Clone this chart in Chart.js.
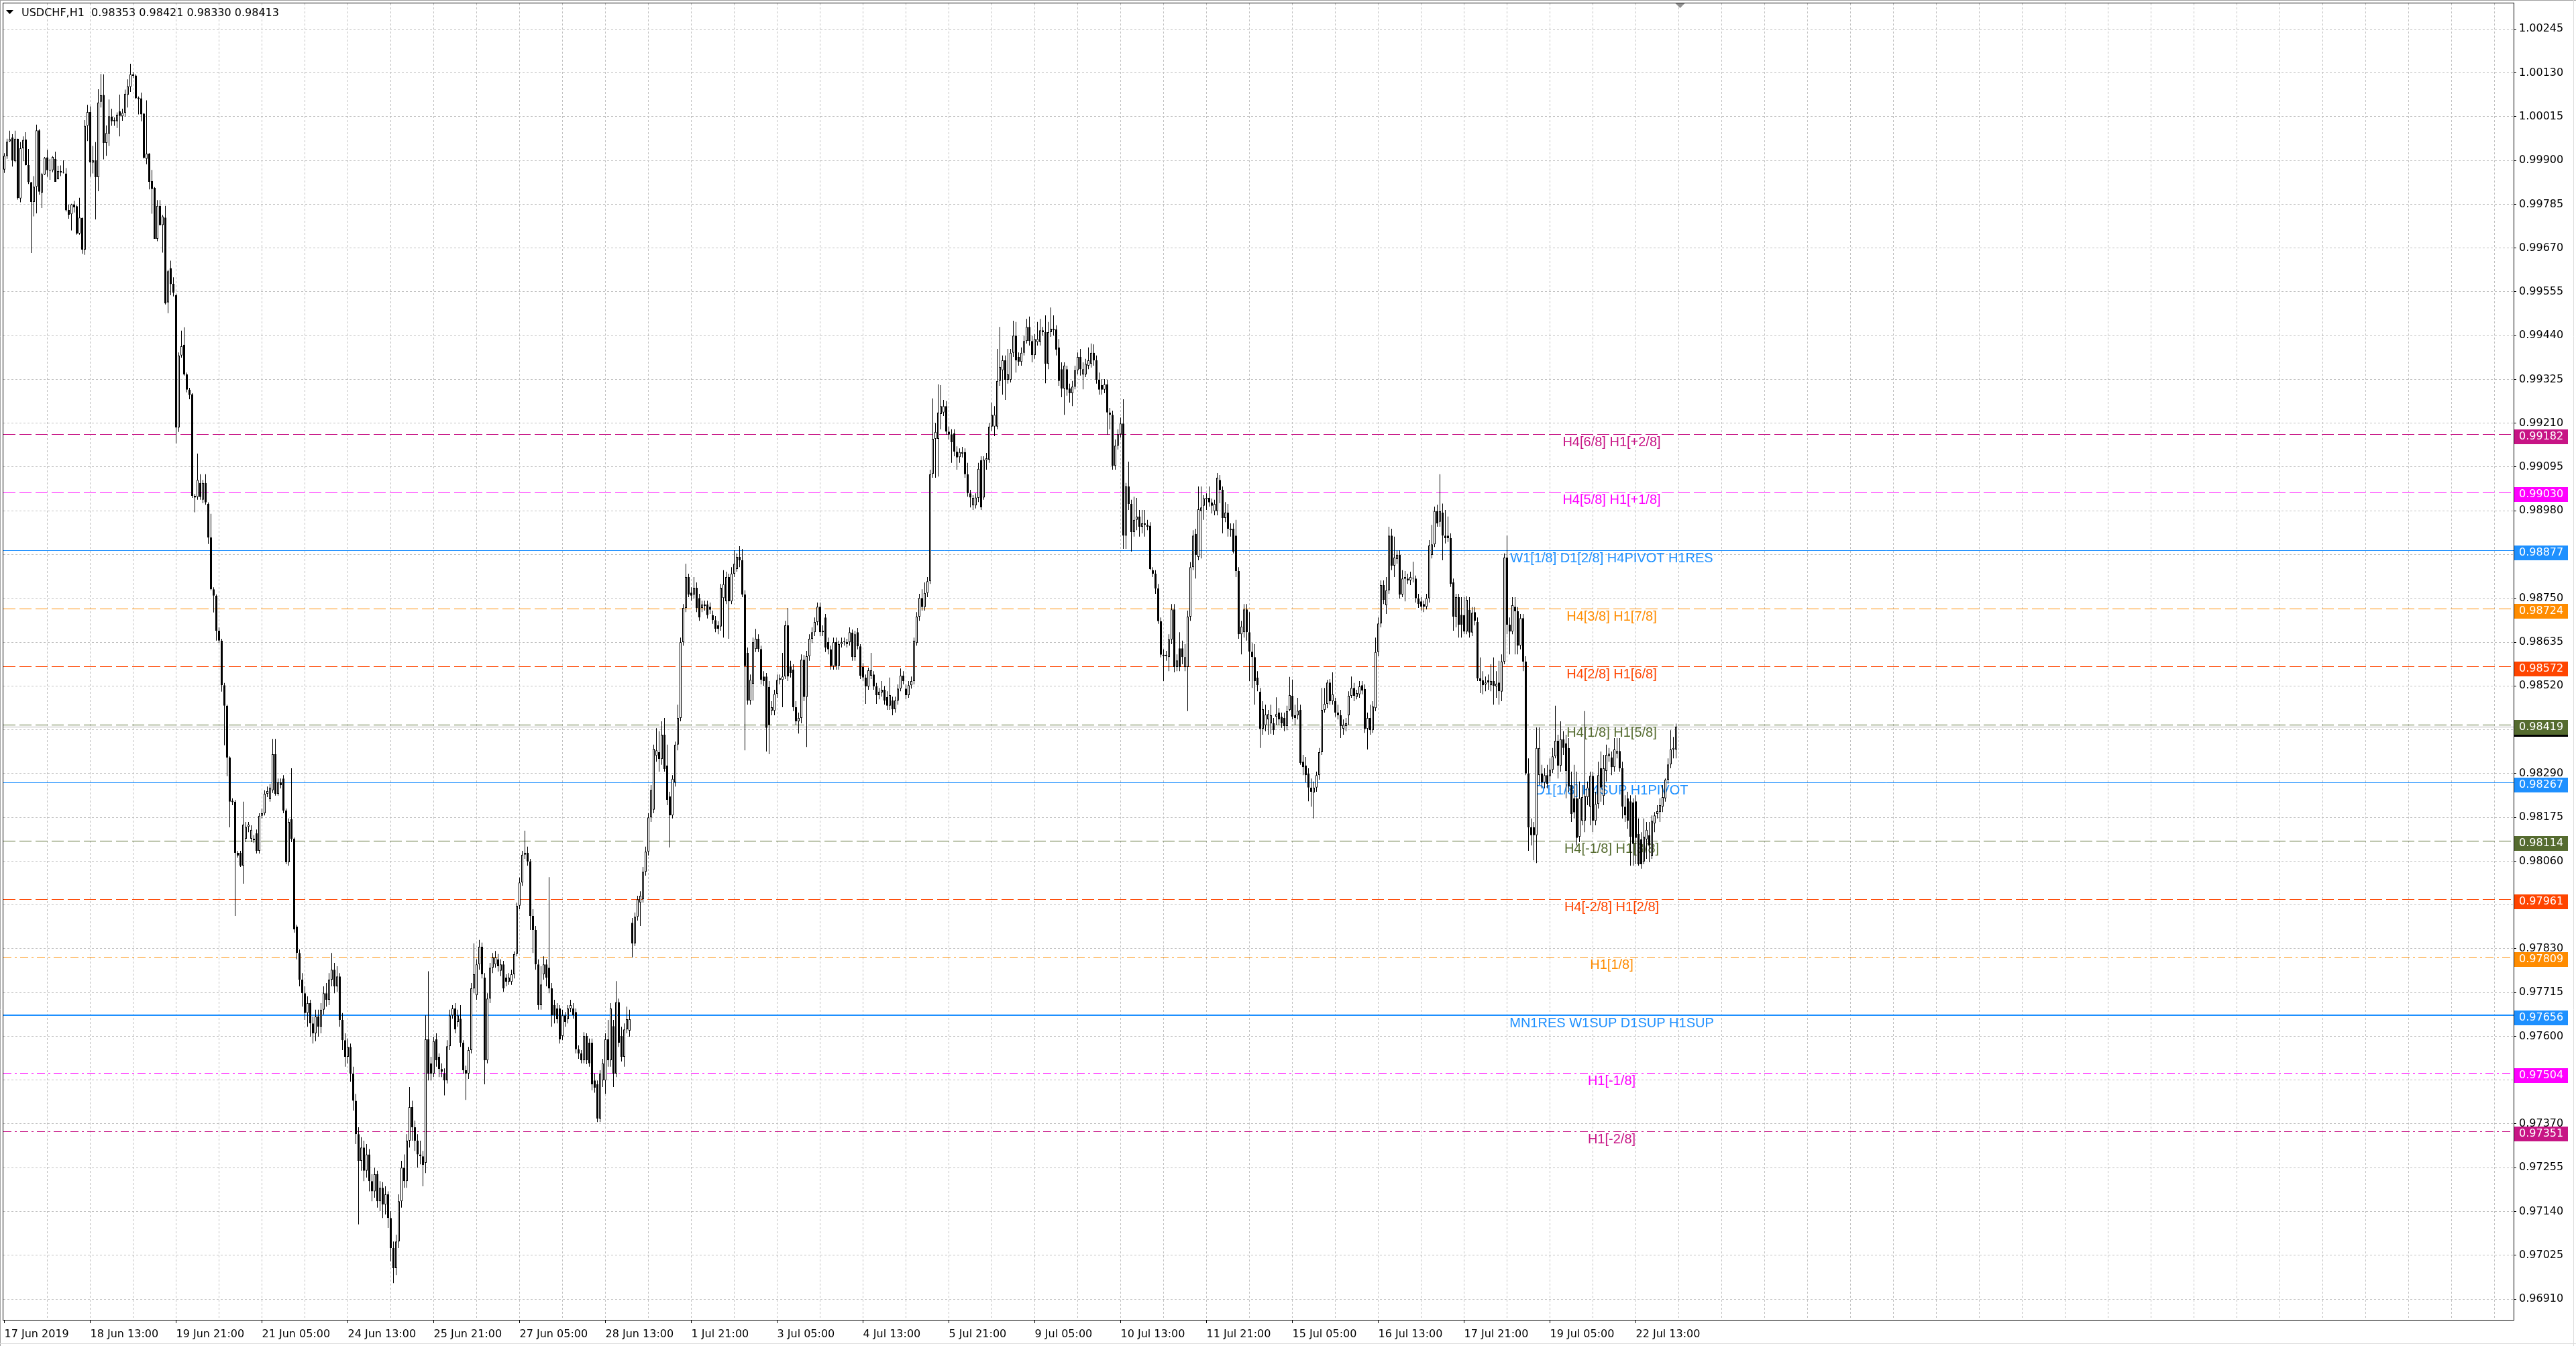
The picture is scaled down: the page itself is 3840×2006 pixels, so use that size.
<!DOCTYPE html>
<html>
<head>
<meta charset="utf-8">
<title>USDCHF,H1</title>
<script src="https://cdn.jsdelivr.net/npm/chart.js@4.4.1/dist/chart.umd.min.js"></script>
<style>
html,body{margin:0;padding:0;background:#fff;overflow:hidden;}
canvas{display:block;}
</style>
</head>
<body>
<canvas id="chart" width="3840" height="2006"></canvas>
<script>
const chartTitle = 'USDCHF,H1  0.98353 0.98421 0.98330 0.98413';

const xTickLabels = ['17 Jun 2019','18 Jun 13:00','19 Jun 21:00','21 Jun 05:00','24 Jun 13:00','25 Jun 21:00','27 Jun 05:00','28 Jun 13:00','1 Jul 21:00','3 Jul 05:00','4 Jul 13:00','5 Jul 21:00','9 Jul 05:00','10 Jul 13:00','11 Jul 21:00','15 Jul 05:00','16 Jul 13:00','17 Jul 21:00','19 Jul 05:00','22 Jul 13:00'];
const barsPerLabel = 32;
const barsPerGrid = 16;

const yTickValues = [1.00245,1.00130,1.00015,0.99900,0.99785,0.99670,0.99555,0.99440,0.99325,0.99210,0.99095,0.98980,0.98865,0.98750,0.98635,0.98520,0.98405,0.98290,0.98175,0.98060,0.97945,0.97830,0.97715,0.97600,0.97485,0.97370,0.97255,0.97140,0.97025,0.96910];

const opens = [
.99876,.99911,.99950,.99960,.99898,.99957,.99800,.99932,.99955,.99888,
.99843,.99791,.99831,.99979,.99815,.99863,.99908,.99875,.99874,.99904,
.99851,.99872,.99870,.99866,.99770,.99759,.99785,.99780,.99708,.99749,
.99666,.99991,1.00027,.99894,.99900,.99856,1.00054,1.00072,.99946,.99970,
1.00015,1.00006,1.00003,1.00029,1.00016,1.00025,1.00072,1.00093,1.00126,1.00123,
1.00065,1.00063,1.00023,.99904,.99918,.99846,.99828,.99694,.99781,.99730,
.99750,.99527,.99617,.99576,.99546,.99199,.99388,.99416,.99338,.99298,
.99286,.99019,.99016,.99053,.99009,.99053,.98998,.98910,.98774,.98757,
.98665,.98639,.98522,.98468,.98332,.98219,.98216,.98082,.98082,.98048,
.98119,.98150,.98119,.98119,.98133,.98087,.98179,.98186,.98237,.98223,
.98246,.98341,.98237,.98267,.98277,.98193,.98057,.98170,.98119,.97888,
.97819,.97749,.97713,.97661,.97687,.97634,.97608,.97652,.97625,.97670,
.97713,.97696,.97749,.97775,.97731,.97757,.97643,.97590,.97546,.97572,
.97502,.97431,.97343,.97273,.97308,.97247,.97290,.97220,.97193,.97238,
.97167,.97202,.97158,.97185,.97123,.97044,.96991,.97061,.97167,.97255,
.97220,.97326,.97414,.97361,.97326,.97290,.97285,.97268,.97592,.97529,
.97502,.97592,.97546,.97514,.97502,.97484,.97574,.97655,.97673,.97638,
.97646,.97583,.97511,.97502,.97564,.97726,.97708,.97789,.97835,.97754,
.97537,.97699,.97780,.97789,.97802,.97772,.97789,.97754,.97743,.97743,
.97763,.97816,.97943,.98004,.98077,.98082,.98059,.97916,.97879,.97789,
.97682,.97763,.97789,.97780,.97726,.97682,.97673,.97673,.97601,.97655,
.97645,.97673,.97673,.97664,.97566,.97555,.97537,.97601,.97583,.97583,
.97484,.97474,.97384,.97484,.97484,.97592,.97537,.97627,.97502,.97690,
.97601,.97546,.97618,.97615,.97898,.97844,.97914,.97951,.97960,.98032,
.98085,.98175,.98195,.98337,.98346,.98328,.98392,.98311,.98230,.98180,
.98267,.98366,.98436,.98635,.98725,.98806,.98765,.98760,.98778,.98751,
.98725,.98734,.98734,.98728,.98706,.98693,.98679,.98676,.98751,.98742,
.98806,.98742,.98815,.98827,.98859,.98850,.98760,.98607,.98482,.98526,
.98617,.98644,.98617,.98545,.98545,.98517,.98455,.98455,.98499,.98536,
.98536,.98545,.98679,.98572,.98563,.98464,.98427,.98436,.98589,.98491,
.98598,.98644,.98661,.98688,.98728,.98661,.98700,.98635,.98616,.98572,
.98635,.98572,.98630,.98635,.98630,.98635,.98660,.98596,.98661,.98624,
.98570,.98542,.98519,.98547,.98550,.98519,.98496,.98503,.98510,.98491,
.98468,.98482,.98459,.98482,.98513,.98547,.98513,.98496,.98522,.98533,
.98633,.98702,.98751,.98727,.98764,.98795,.99077,.99169,.99169,.99234,
.99238,.99255,.99188,.99181,.99183,.99135,.99121,.99130,.99134,.99076,
.99026,.98994,.98994,.99014,.99113,.99015,.99113,.99114,.99201,.99201,
.99201,.99321,.99349,.99375,.99324,.99324,.99395,.99440,.99384,.99371,
.99395,.99426,.99463,.99426,.99389,.99423,.99423,.99454,.99449,.99366,
.99449,.99458,.99456,.99409,.99352,.99301,.99352,.99301,.99289,.99306,
.99349,.99384,.99338,.99338,.99361,.99366,.99395,.99375,.99324,.99310,
.99298,.99312,.99238,.99232,.99098,.99151,.99181,.99209,.98915,.99044,
.98998,.98924,.98956,.98965,.98938,.98947,.98943,.98941,.98824,.98815,
.98776,.98690,.98602,.98598,.98596,.98642,.98721,.98570,.98619,.98619,
.98570,.98570,.98702,.98832,.98919,.98859,.98979,.98993,.99010,.99014,
.99002,.98979,.98979,.99061,.99035,.98961,.98975,.98929,.98933,.98915,
.98822,.98656,.98661,.98721,.98661,.98610,.98596,.98542,.98505,.98408,
.98417,.98432,.98422,.98422,.98439,.98450,.98439,.98436,.98415,.98457,
.98494,.98443,.98443,.98457,.98321,.98311,.98290,.98253,.98240,.98253,
.98286,.98346,.98457,.98473,.98529,.98480,.98480,.98450,.98443,.98408,
.98415,.98443,.98494,.98515,.98491,.98498,.98522,.98512,.98408,.98436,
.98404,.98462,.98609,.98684,.98785,.98732,.98771,.98915,.98836,.98853,
.98864,.98760,.98801,.98802,.98797,.98802,.98802,.98750,.98742,.98735,
.98728,.98750,.98864,.98892,.98979,.98951,.98975,.98915,.98915,.98908,
.98792,.98702,.98753,.98707,.98706,.98663,.98720,.98660,.98714,.98688,
.98540,.98535,.98524,.98535,.98522,.98533,.98519,.98529,.98505,.98584,
.98857,.98681,.98663,.98728,.98716,.98626,.98698,.98584,.98290,.98149,
.98149,.98128,.98286,.98290,.98267,.98286,.98283,.98300,.98335,.98376,
.98311,.98380,.98369,.98357,.98260,.98225,.98225,.98124,.98166,.98166,
.98228,.98203,.98284,.98166,.98210,.98304,.98231,.98297,.98335,.98332,
.98307,.98342,.98349,.98304,.98203,.98225,.98217,.98214,.98217,.98131,
.98117,.98059,.98117,.98128,.98073,.98159,.98184,.98189,.98203,.98225,
.98274,.98314,.98353,.98353
];

const highs = [
.99919,.99957,.99978,.99969,.99978,.99957,.99948,.99963,.99974,.99930,
.99844,.99859,.99994,.99982,.99867,.99909,.99928,.99904,.99911,.99923,
.99886,.99887,.99900,.99880,.99784,.99786,.99794,.99782,.99802,.99750,
1.00006,1.00046,1.00042,.99938,.99948,1.00087,1.00127,1.00126,.99992,1.00060,
1.00036,1.00013,1.00026,1.00073,1.00036,1.00086,1.00113,1.00154,1.00132,1.00126,
1.00068,1.00078,1.00024,1.00058,.99919,.99875,.99830,.99796,.99796,.99757,
.99781,.99613,.99637,.99593,.99550,.99396,.99453,.99462,.99343,.99303,
.99289,.99024,.99130,.99076,.99061,.99076,.99002,.98972,.98779,.98760,
.98674,.98644,.98528,.98471,.98335,.98225,.98221,.98087,.98087,.98216,
.98163,.98163,.98154,.98128,.98143,.98186,.98198,.98246,.98256,.98263,
.98381,.98381,.98277,.98277,.98286,.98198,.98172,.98304,.98122,.97893,
.97828,.97766,.97731,.97705,.97696,.97652,.97670,.97670,.97687,.97731,
.97740,.97766,.97819,.97793,.97784,.97766,.97661,.97608,.97594,.97581,
.97520,.97449,.97361,.97335,.97326,.97317,.97304,.97238,.97255,.97247,
.97220,.97217,.97206,.97193,.97141,.97061,.97079,.97185,.97273,.97290,
.97343,.97467,.97431,.97379,.97343,.97326,.97299,.97655,.97771,.97546,
.97599,.97608,.97555,.97529,.97516,.97590,.97670,.97682,.97687,.97670,
.97682,.97590,.97523,.97572,.97740,.97844,.97802,.97853,.97846,.97766,
.97713,.97793,.97819,.97824,.97816,.97802,.97798,.97763,.97766,.97775,
.97823,.97951,.98017,.98087,.98140,.98098,.98066,.97934,.97890,.97802,
.97784,.97810,.97802,.98018,.97740,.97696,.97687,.97682,.97670,.97664,
.97682,.97696,.97687,.97673,.97576,.97564,.97611,.97608,.97594,.97594,
.97502,.97484,.97511,.97541,.97608,.97643,.97687,.97643,.97745,.97699,
.97625,.97634,.97678,.97670,.97911,.97925,.97969,.97981,.98045,.98098,
.98186,.98260,.98366,.98409,.98401,.98427,.98436,.98366,.98242,.98286,
.98374,.98471,.98647,.98735,.98841,.98815,.98779,.98806,.98792,.98762,
.98744,.98744,.98744,.98739,.98718,.98704,.98690,.98788,.98824,.98820,
.98815,.98832,.98876,.98868,.98887,.98880,.98771,.98621,.98550,.98647,
.98670,.98656,.98626,.98559,.98554,.98533,.98480,.98510,.98550,.98550,
.98607,.98691,.98725,.98586,.98577,.98480,.98450,.98603,.98601,.98612,
.98656,.98674,.98700,.98739,.98739,.98679,.98709,.98647,.98626,.98647,
.98647,.98639,.98647,.98647,.98644,.98674,.98668,.98665,.98672,.98630,
.98580,.98550,.98568,.98607,.98559,.98528,.98515,.98533,.98520,.98506,
.98542,.98492,.98492,.98524,.98566,.98559,.98524,.98533,.98545,.98647,
.98714,.98762,.98774,.98792,.98806,.99088,.99275,.99211,.99312,.99310,
.99271,.99268,.99201,.99194,.99194,.99149,.99144,.99148,.99144,.99106,
.99035,.99021,.99026,.99106,.99123,.99123,.99132,.99211,.99264,.99255,
.99405,.99463,.99388,.99388,.99405,.99405,.99479,.99476,.99396,.99409,
.99440,.99484,.99490,.99440,.99444,.99476,.99484,.99463,.99493,.99476,
.99514,.99493,.99467,.99431,.99370,.99370,.99361,.99314,.99321,.99361,
.99396,.99405,.99370,.99379,.99409,.99419,.99417,.99388,.99343,.99326,
.99326,.99324,.99250,.99243,.99167,.99194,.99225,.99273,.99053,.99109,
.99009,.99017,.99014,.98982,.98982,.98982,.98956,.98950,.98832,.98824,
.98788,.98700,.98616,.98612,.98656,.98735,.98735,.98603,.98661,.98639,
.98630,.98718,.98845,.98929,.98933,.99044,.99044,.99021,.99026,.99044,
.99012,.99009,.99079,.99074,.99044,.99003,.98998,.98947,.98947,.98956,
.98832,.98691,.98735,.98735,.98714,.98633,.98630,.98559,.98515,.98480,
.98471,.98457,.98471,.98436,.98490,.98462,.98450,.98450,.98468,.98544,
.98537,.98471,.98489,.98471,.98339,.98334,.98304,.98277,.98269,.98295,
.98357,.98515,.98515,.98536,.98538,.98556,.98489,.98471,.98457,.98432,
.98436,.98506,.98545,.98528,.98510,.98533,.98533,.98524,.98450,.98471,
.98480,.98647,.98700,.98797,.98797,.98806,.98938,.98933,.98912,.98876,
.98876,.98824,.98822,.98815,.98820,.98846,.98810,.98762,.98753,.98744,
.98762,.98903,.98943,.98991,.98996,.99076,.98999,.98982,.98965,.98921,
.98802,.98762,.98762,.98753,.98753,.98756,.98753,.98727,.98727,.98700,
.98595,.98559,.98545,.98550,.98577,.98595,.98559,.98586,.98603,.98868,
.98915,.98700,.98753,.98753,.98727,.98709,.98709,.98598,.98330,.98172,
.98163,.98411,.98411,.98313,.98304,.98313,.98330,.98357,.98468,.98392,
.98427,.98401,.98392,.98383,.98295,.98313,.98295,.98269,.98260,.98454,
.98269,.98295,.98295,.98242,.98321,.98348,.98339,.98366,.98357,.98348,
.98383,.98383,.98383,.98321,.98233,.98242,.98233,.98225,.98233,.98172,
.98136,.98172,.98163,.98163,.98180,.98189,.98207,.98225,.98260,.98277,
.98330,.98404,.98386,.98421
];

const lows = [
.99867,.99904,.99948,.99884,.99895,.99797,.99790,.99898,.99887,.99838,
.99657,.99753,.99761,.99810,.99775,.99862,.99857,.99849,.99869,.99844,
.99850,.99859,.99866,.99766,.99747,.99716,.99763,.99705,.99705,.99655,
.99652,.99951,.99857,.99866,.99745,.99819,1.00039,.99903,.99912,.99938,
.99991,.99991,.99985,.99963,1.00004,1.00015,1.00039,1.00080,1.00116,1.00062,
1.00021,1.00003,.99905,.99890,.99824,.99760,.99694,.99688,.99729,.99658,
.99522,.99499,.99546,.99543,.99157,.99187,.99382,.99335,.99291,.99273,
.99014,.98976,.99009,.99009,.99000,.98996,.98893,.98771,.98713,.98639,
.98633,.98505,.98364,.98283,.98149,.98207,.97916,.98069,.98045,.98001,
.98110,.98136,.98110,.98108,.98080,.98080,.98172,.98180,.98228,.98216,
.98239,.98232,.98232,.98251,.98186,.98052,.98048,.98110,.97872,.97802,
.97731,.97678,.97643,.97625,.97599,.97581,.97587,.97599,.97608,.97657,
.97678,.97682,.97731,.97713,.97717,.97625,.97564,.97520,.97529,.97481,
.97405,.97317,.97106,.97247,.97220,.97229,.97193,.97167,.97176,.97150,
.97141,.97123,.97132,.97097,.97009,.96952,.96973,.97044,.97150,.97202,
.97202,.97308,.97326,.97299,.97255,.97264,.97206,.97241,.97484,.97484,
.97493,.97520,.97493,.97493,.97445,.97476,.97564,.97646,.97608,.97625,
.97572,.97502,.97433,.97488,.97555,.97713,.97696,.97775,.97752,.97474,
.97529,.97687,.97766,.97780,.97770,.97758,.97717,.97731,.97735,.97735,
.97752,.97810,.97934,.97995,.98066,.98048,.97879,.97819,.97775,.97670,
.97670,.97749,.97731,.97713,.97625,.97634,.97634,.97581,.97590,.97625,
.97634,.97664,.97646,.97555,.97541,.97529,.97529,.97527,.97520,.97458,
.97452,.97375,.97375,.97467,.97449,.97520,.97520,.97467,.97493,.97572,
.97534,.97520,.97608,.97599,.97807,.97837,.97904,.97890,.97951,.98022,
.98075,.98163,.98186,.98321,.98295,.98313,.98295,.98207,.98096,.98172,
.98256,.98351,.98427,.98626,.98714,.98753,.98744,.98749,.98714,.98691,
.98714,.98718,.98697,.98709,.98683,.98661,.98656,.98665,.98647,.98735,
.98644,.98735,.98806,.98820,.98832,.98753,.98351,.98471,.98471,.98482,
.98609,.98609,.98524,.98520,.98348,.98341,.98443,.98443,.98489,.98524,
.98464,.98538,.98533,.98542,.98454,.98418,.98395,.98422,.98480,.98360,
.98586,.98633,.98651,.98679,.98651,.98651,.98609,.98603,.98563,.98563,
.98563,.98563,.98621,.98626,.98621,.98626,.98586,.98586,.98616,.98538,
.98533,.98473,.98510,.98538,.98510,.98473,.98485,.98492,.98471,.98457,
.98457,.98443,.98450,.98471,.98506,.98524,.98485,.98489,.98513,.98524,
.98626,.98691,.98718,.98718,.98753,.98788,.99067,.99067,.99070,.99194,
.99229,.99180,.99167,.99106,.99123,.99088,.99106,.99120,.99067,.99017,
.98989,.98982,.98986,.99003,.98982,.99009,.99088,.99106,.99190,.99176,
.99194,.99308,.99285,.99271,.99314,.99317,.99384,.99343,.99361,.99361,
.99388,.99419,.99414,.99370,.99379,.99414,.99414,.99440,.99315,.99352,
.99437,.99440,.99388,.99308,.99278,.99232,.99282,.99264,.99255,.99299,
.99338,.99335,.99299,.99331,.99352,.99356,.99361,.99314,.99285,.99285,
.99289,.99180,.99194,.99088,.99088,.99141,.99172,.98880,.98880,.98982,
.98873,.98912,.98929,.98912,.98921,.98912,.98929,.98824,.98806,.98762,
.98683,.98595,.98533,.98586,.98559,.98630,.98556,.98559,.98559,.98577,
.98559,.98454,.98691,.98824,.98802,.98850,.98855,.98956,.98982,.98991,
.98973,.98968,.98968,.99000,.98921,.98950,.98912,.98912,.98868,.98806,
.98644,.98603,.98647,.98639,.98533,.98515,.98471,.98506,.98357,.98392,
.98401,.98392,.98394,.98392,.98418,.98418,.98410,.98401,.98404,.98454,
.98432,.98418,.98432,.98313,.98286,.98267,.98217,.98203,.98172,.98242,
.98274,.98339,.98450,.98462,.98471,.98471,.98439,.98432,.98383,.98392,
.98401,.98418,.98489,.98480,.98485,.98489,.98498,.98397,.98353,.98392,
.98397,.98454,.98598,.98674,.98735,.98709,.98762,.98824,.98806,.98841,
.98749,.98753,.98742,.98788,.98785,.98792,.98739,.98725,.98718,.98714,
.98721,.98739,.98855,.98885,.98938,.98938,.98850,.98894,.98898,.98780,
.98665,.98674,.98647,.98647,.98656,.98656,.98647,.98651,.98679,.98533,
.98501,.98498,.98506,.98510,.98506,.98471,.98489,.98471,.98480,.98577,
.98656,.98603,.98656,.98603,.98603,.98616,.98559,.98286,.98087,.98101,
.98062,.98055,.98260,.98251,.98251,.98251,.98269,.98291,.98330,.98277,
.98295,.98339,.98225,.98242,.98163,.98172,.98101,.98110,.98154,.98136,
.98207,.98154,.98136,.98154,.98198,.98216,.98207,.98269,.98321,.98286,
.98295,.98330,.98295,.98172,.98163,.98145,.98048,.98048,.98052,.98048,
.98040,.98052,.98066,.98057,.98066,.98136,.98172,.98163,.98189,.98216,
.98263,.98304,.98330,.98330
];

const closes = [
.99912,.99949,.99956,.99900,.99957,.99801,.99932,.99954,.99888,.99843,
.99791,.99831,.99979,.99818,.99863,.99907,.99874,.99873,.99909,.99844,
.99872,.99868,.99868,.99769,.99757,.99785,.99777,.99708,.99750,.99666,
.99991,1.00027,.99895,.99900,.99856,1.00052,1.00071,.99946,.99972,1.00016,
1.00003,1.00003,1.00020,1.00017,1.00025,1.00075,1.00095,1.00126,1.00122,1.00063,
1.00061,1.00021,.99907,.99918,.99844,.99825,.99694,.99781,.99730,.99753,
.99525,.99609,.99575,.99553,.99199,.99388,.99412,.99338,.99298,.99284,
.99019,.99015,.99061,.99016,.99053,.99002,.98910,.98774,.98757,.98665,
.98639,.98522,.98468,.98332,.98216,.98215,.98082,.98075,.98048,.98156,
.98150,.98156,.98142,.98115,.98087,.98179,.98186,.98237,.98244,.98253,
.98341,.98237,.98267,.98260,.98193,.98057,.98163,.98119,.97881,.97819,
.97749,.97713,.97661,.97687,.97634,.97608,.97652,.97625,.97670,.97713,
.97696,.97749,.97775,.97731,.97757,.97643,.97590,.97546,.97572,.97502,
.97431,.97343,.97273,.97308,.97247,.97290,.97220,.97193,.97238,.97167,
.97202,.97158,.97185,.97123,.97044,.96991,.97061,.97167,.97255,.97220,
.97326,.97414,.97361,.97326,.97290,.97285,.97262,.97592,.97502,.97502,
.97587,.97537,.97514,.97507,.97484,.97574,.97655,.97673,.97618,.97655,
.97583,.97511,.97502,.97564,.97726,.97763,.97789,.97835,.97763,.97537,
.97699,.97780,.97807,.97807,.97784,.97789,.97726,.97743,.97754,.97763,
.97816,.97943,.98004,.98077,.98082,.98059,.97916,.97879,.97789,.97682,
.97736,.97789,.97754,.97726,.97655,.97655,.97645,.97592,.97655,.97638,
.97673,.97682,.97655,.97566,.97555,.97537,.97601,.97537,.97529,.97474,
.97465,.97384,.97502,.97529,.97592,.97537,.97673,.97502,.97690,.97583,
.97546,.97618,.97645,.97645,.97844,.97914,.97960,.97969,.98032,.98085,
.98175,.98247,.98355,.98351,.98328,.98392,.98302,.98221,.98180,.98276,
.98366,.98436,.98635,.98725,.98806,.98760,.98757,.98778,.98725,.98700,
.98734,.98730,.98706,.98720,.98693,.98670,.98670,.98778,.98787,.98806,
.98742,.98815,.98841,.98859,.98850,.98760,.98572,.98482,.98536,.98635,
.98644,.98617,.98536,.98533,.98410,.98418,.98464,.98499,.98536,.98540,
.98545,.98679,.98545,.98554,.98464,.98427,.98436,.98589,.98491,.98598,
.98644,.98661,.98688,.98728,.98661,.98665,.98621,.98616,.98572,.98635,
.98572,.98630,.98635,.98635,.98635,.98661,.98596,.98656,.98624,.98547,
.98542,.98519,.98561,.98561,.98519,.98496,.98505,.98510,.98482,.98468,
.98496,.98459,.98482,.98513,.98547,.98533,.98496,.98522,.98533,.98639,
.98702,.98751,.98727,.98764,.98795,.99076,.99169,.99187,.99238,.99255,
.99255,.99188,.99180,.99160,.99135,.99120,.99134,.99134,.99076,.99026,
.99015,.99014,.99015,.99090,.98989,.99114,.99118,.99201,.99232,.99232,
.99321,.99358,.99375,.99324,.99338,.99395,.99440,.99375,.99371,.99395,
.99426,.99463,.99426,.99389,.99431,.99431,.99454,.99449,.99366,.99449,
.99458,.99454,.99403,.99321,.99301,.99361,.99298,.99289,.99306,.99349,
.99384,.99352,.99352,.99366,.99375,.99395,.99375,.99324,.99298,.99298,
.99312,.99238,.99232,.99098,.99151,.99181,.99209,.98915,.99044,.98998,
.98924,.98956,.98965,.98938,.98947,.98943,.98938,.98827,.98815,.98776,
.98690,.98602,.98598,.98602,.98642,.98721,.98570,.98587,.98570,.98596,
.98596,.98702,.98832,.98915,.98864,.98984,.98989,.99012,.99014,.99002,
.98993,.98998,.99067,.99035,.98961,.98975,.98933,.98933,.98873,.98822,
.98656,.98676,.98721,.98661,.98610,.98596,.98533,.98522,.98408,.98459,
.98445,.98446,.98443,.98404,.98446,.98432,.98422,.98415,.98454,.98496,
.98439,.98436,.98455,.98318,.98307,.98286,.98253,.98242,.98253,.98286,
.98346,.98457,.98473,.98529,.98480,.98498,.98450,.98443,.98415,.98418,
.98422,.98494,.98515,.98494,.98501,.98519,.98508,.98408,.98436,.98404,
.98466,.98609,.98684,.98785,.98746,.98771,.98915,.98836,.98857,.98864,
.98760,.98802,.98806,.98797,.98806,.98802,.98750,.98735,.98728,.98728,
.98750,.98889,.98892,.98979,.98947,.98979,.98915,.98908,.98908,.98788,
.98702,.98753,.98681,.98681,.98663,.98746,.98660,.98712,.98691,.98540,
.98533,.98522,.98529,.98529,.98533,.98520,.98526,.98506,.98584,.98857,
.98681,.98663,.98732,.98716,.98626,.98698,.98584,.98290,.98149,.98128,
.98128,.98357,.98357,.98267,.98286,.98263,.98300,.98335,.98376,.98311,
.98380,.98357,.98297,.98256,.98184,.98188,.98121,.98225,.98228,.98231,
.98253,.98284,.98166,.98210,.98286,.98253,.98304,.98339,.98342,.98307,
.98353,.98349,.98304,.98203,.98180,.98166,.98124,.98105,.98121,.98052,
.98052,.98124,.98142,.98101,.98166,.98180,.98191,.98207,.98228,.98274,
.98314,.98353,.98357,.98413
];

const levelPrices = [0.99182,0.99030,0.98877,0.98724,0.98572,0.98419,0.98267,0.98114,0.97961,0.97809,0.97656,0.97504,0.97351];
const levelNames = ['H4[6/8] H1[+2/8]','H4[5/8] H1[+1/8]','W1[1/8] D1[2/8] H4PIVOT H1RES','H4[3/8] H1[7/8]','H4[2/8] H1[6/8]','H4[1/8] H1[5/8]','D1[1/8] H4SUP H1PIVOT','H4[-1/8] H1[3/8]','H4[-2/8] H1[2/8]','H1[1/8]','MN1RES W1SUP D1SUP H1SUP','H1[-1/8]','H1[-2/8]'];
const levelColors = ['#C71585','#FF00FF','#1E90FF','#FF8C00','#FF4500','#556B2F','#1E90FF','#556B2F','#FF4500','#FF8C00','#1E90FF','#FF00FF','#C71585'];
const levelStyles = ['dash','dash','solid','dash','dash','dash','solid','dash','dash','dashdot','solid','dashdot','dashdot'];
const levelWidths = [1,1,1,1,1,1,1,1,1,1,2,1,1];
const levelLabelBar = 599;
const bidPrice = 0.98413;

const AXIS_FONT = '"DejaVu Sans", Verdana, sans-serif';
const LABEL_FONT = '"Liberation Sans", Arial, sans-serif';
const dashPatterns = { solid: [], dash: [18, 6], dashdot: [12, 5, 3, 5] };

const wickData = highs.map((h, i) => ({ x: i, y: [lows[i], h] }));
const bodyData = opens.map((o, i) => ({ x: i, y: [o, closes[i]] }));

const mt4Overlay = {
  id: 'mt4Overlay',
  beforeDatasetsDraw(chart) {
    const { ctx, chartArea: a, scales } = chart;
    const xs = scales.x, ys = scales.y;
    ctx.save();
    ctx.beginPath();
    ctx.rect(a.left, a.top, a.right - a.left, a.bottom - a.top);
    ctx.clip();
    const by = Math.round(ys.getPixelForValue(bidPrice)) + 0.5;
    ctx.strokeStyle = '#b4b4b4'; ctx.lineWidth = 1; ctx.setLineDash([]);
    ctx.beginPath(); ctx.moveTo(a.left, by); ctx.lineTo(a.right, by); ctx.stroke();
    const lx = xs.getPixelForValue(levelLabelBar);
    ctx.font = '20px ' + LABEL_FONT; ctx.textAlign = 'center'; ctx.textBaseline = 'middle';
    levelPrices.forEach((p, i) => {
      const w = levelWidths[i];
      const y0 = ys.getPixelForValue(p);
      const yy = (w % 2) ? Math.round(y0) + 0.5 : Math.round(y0);
      ctx.strokeStyle = levelColors[i]; ctx.lineWidth = w;
      ctx.setLineDash(dashPatterns[levelStyles[i]]);
      ctx.beginPath(); ctx.moveTo(a.left, yy); ctx.lineTo(a.right, yy); ctx.stroke();
      ctx.fillStyle = levelColors[i];
      ctx.fillText(levelNames[i], lx, Math.round(y0) + 12);
    });
    ctx.restore();
  },
  afterDraw(chart) {
    const { ctx, chartArea: a, scales } = chart;
    const ys = scales.y;
    ctx.save();
    ctx.setLineDash([]);
    ctx.lineWidth = 1;
    ctx.strokeStyle = '#000';
    ctx.strokeRect(a.left - 0.5, a.top - 0.5, a.right - a.left + 1, a.bottom - a.top + 1);
    ctx.strokeStyle = '#a0a0a0';
    ctx.beginPath();
    ctx.moveTo(0.5, 0); ctx.lineTo(0.5, 2006);
    ctx.moveTo(0, 0.5); ctx.lineTo(3840, 0.5);
    ctx.stroke();
    ctx.strokeStyle = '#dcdcdc';
    ctx.beginPath();
    ctx.moveTo(0, 2002.5); ctx.lineTo(3840, 2002.5);
    ctx.moveTo(3836.5, 0); ctx.lineTo(3836.5, 2006);
    ctx.stroke();
    // price tags on the right scale
    ctx.font = '16px ' + AXIS_FONT; ctx.textAlign = 'left'; ctx.textBaseline = 'middle';
    const tag = (p, color) => {
      const y0 = Math.round(ys.getPixelForValue(p));
      ctx.fillStyle = color; ctx.fillRect(a.right + 1, y0 - 7, 80, 22);
      ctx.fillStyle = '#fff'; ctx.fillText(p.toFixed(5), a.right + 8, y0 + 4);
    };
    tag(bidPrice, '#000');
    levelPrices.forEach((p, i) => tag(p, levelColors[i]));
    // title
    ctx.fillStyle = '#000';
    ctx.beginPath(); ctx.moveTo(9, 15); ctx.lineTo(20, 15); ctx.lineTo(14.5, 21); ctx.closePath(); ctx.fill();
    ctx.font = '16px ' + AXIS_FONT; ctx.textAlign = 'left'; ctx.textBaseline = 'middle';
    ctx.fillText(chartTitle, 32, 20);
    // chart shift marker
    const sx = chart.scales.x.getPixelForValue(opens.length - 1) + 6;
    ctx.fillStyle = '#909090';
    ctx.beginPath(); ctx.moveTo(sx - 7, a.top); ctx.lineTo(sx + 7, a.top); ctx.lineTo(sx, a.top + 7); ctx.closePath(); ctx.fill();
    ctx.restore();
  }
};

Chart.defaults.font.family = AXIS_FONT;
Chart.defaults.font.size = 16;
Chart.defaults.color = '#000';

new Chart(document.getElementById('chart'), {
  type: 'bar',
  data: {
    datasets: [
      {
        label: 'body', data: bodyData, order: 0, grouped: false,
        barThickness: 3, borderWidth: 1, borderSkipped: false, borderColor: '#000',
        inflateAmount: 0, minBarLength: 1,
        backgroundColor: (c) => (closes[c.dataIndex] >= opens[c.dataIndex] ? '#ffffff' : '#000000')
      },
      {
        label: 'wick', data: wickData, order: 1, grouped: false,
        barThickness: 1, borderWidth: 0, inflateAmount: 0, backgroundColor: '#000'
      }
    ]
  },
  options: {
    responsive: false, animation: false, devicePixelRatio: 1,
    events: [],
    layout: { padding: { left: 5, top: 5, right: 0, bottom: 0 } },
    plugins: { legend: { display: false }, tooltip: { enabled: false }, title: { display: false } },
    scales: {
      x: {
        type: 'linear', min: -0.375, max: 935.125, offset: false,
        afterBuildTicks: (s) => { const t = []; for (let v = 0; v <= s.max; v += barsPerGrid) t.push({ value: v }); s.ticks = t; },
        afterFit: (s) => { s.height = 39; s.paddingLeft = 0; s.paddingRight = 0; s.paddingTop = 0; s.paddingBottom = 0; },
        ticks: {
          autoSkip: false, maxRotation: 0, minRotation: 0, align: 'start', padding: 7, color: '#000',
          font: { family: AXIS_FONT, size: 16 },
          callback: (v) => { const k = v / barsPerLabel; return (Number.isInteger(k) && k < xTickLabels.length) ? xTickLabels[k] : ''; }
        },
        grid: {
          offset: false, lineWidth: 1, borderDash: [3, 3], tickLength: 5,
          color: (c) => (c.tick && c.tick.value === 0 ? 'rgba(0,0,0,0)' : '#c0c0c0'),
          tickColor: (c) => (c.tick && c.tick.value % barsPerLabel === 0 && c.tick.value / barsPerLabel < xTickLabels.length ? '#000' : 'rgba(0,0,0,0)')
        },
        border: { display: false, dash: [3, 3] }
      },
      y: {
        type: 'linear', position: 'right', min: 0.968555, max: 1.003125,
        afterBuildTicks: (s) => { s.ticks = yTickValues.map((v) => ({ value: v })); },
        afterFit: (s) => { s.width = 93; s.paddingLeft = 0; s.paddingRight = 0; s.paddingTop = 0; s.paddingBottom = 0; },
        ticks: { autoSkip: false, padding: 4, color: '#000', font: { family: AXIS_FONT, size: 16 }, callback: (v) => Number(v).toFixed(5) },
        grid: { lineWidth: 1, color: '#c0c0c0', borderDash: [3, 3], tickLength: 4, tickColor: '#000' },
        border: { display: false, dash: [3, 3] }
      }
    }
  },
  plugins: [mt4Overlay]
});
</script>
</body>
</html>
